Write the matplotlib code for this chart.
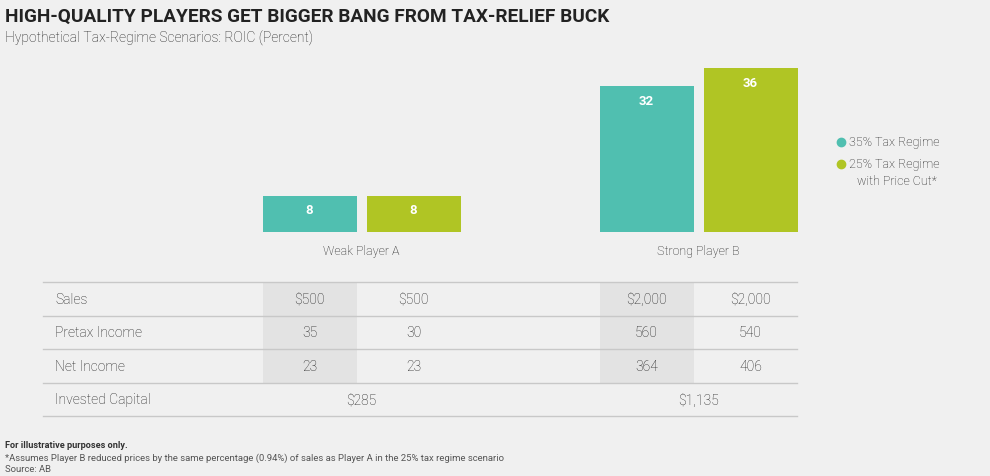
import matplotlib
matplotlib.use('Agg')
import matplotlib.pyplot as plt

# Data
players = ['Weak Player A', 'Strong Player B']
series = ['35% Tax Regime', '25% Tax Regime\nwith Price Cut*']
roic_35 = [8, 32]
roic_25 = [8, 36]
row_labels = ['Sales', 'Pretax Income', 'Net Income']
table_35 = [['$500', '35', '23'], ['$2,000', '560', '364']]
table_25 = [['$500', '30', '23'], ['$2,000', '540', '406']]
invested = ['$285', '$1,135']

BG = '#f0f0f0'
TEAL = '#50bfb0'
GREEN = '#b0c524'
TXT = '#1e1e1e'
LINE = '#c8c8c8'
SHADE = '#e3e3e3'

W, H = 990, 477
fig = plt.figure(figsize=(W / 100, H / 100), dpi=100, facecolor=BG)
plt.rcParams['font.family'] = ['Roboto', 'DejaVu Sans']

# background axes in pixel coordinates (y down)
bg = fig.add_axes([0, 0, 1, 1])
bg.set_xlim(0, W)
bg.set_ylim(H, 0)
bg.axis('off')

# bar axes: baseline at y=233px, 4.56 px per percent
scale = 4.56
ymax = 45
ax = fig.add_axes([0, (H - 233) / H, 1, ymax * scale / H])
ax.set_xlim(0, W)
ax.set_ylim(0, ymax)
ax.axis('off')

centers = [361.5, 698.5]
bw = 94
gap = 10
for i, c in enumerate(centers):
    x1 = c - gap / 2 - bw / 2
    x2 = c + gap / 2 + bw / 2
    ax.bar(x1, roic_35[i], width=bw, color=TEAL)
    ax.bar(x2, roic_25[i], width=bw, color=GREEN)
    for x, v in [(x1, roic_35[i]), (x2, roic_25[i])]:
        ax.text(x, v - 1.7, str(v), ha='center', va='top', color='white',
                fontsize=9.5, fontweight='bold')
    bg.text(c, 251, players[i], ha='center', va='center', color=TXT,
            fontsize=9, fontweight='light')

# legend
bg.plot(841, 143, 'o', color=TEAL, markersize=6)
bg.plot(841, 165, 'o', color=GREEN, markersize=6)
bg.text(849, 143, series[0], ha='left', va='center', color=TXT, fontsize=9, fontweight='light')
first, second = series[1].split('\n')
bg.text(849, 165, first, ha='left', va='center', color=TXT, fontsize=9, fontweight='light')
bg.text(857, 182, second, ha='left', va='center', color=TXT, fontsize=9, fontweight='light')

# table
row_y = [283, 317, 350, 384, 417]
left, right = 43, 797
for i, c in enumerate(centers):
    x1 = c - gap / 2 - bw / 2
    bg.fill_between([x1 - bw / 2, x1 + bw / 2], row_y[0], row_y[3], color=SHADE, lw=0)
for y in row_y:
    bg.plot([left, right], [y, y], color=LINE, lw=1)

for r, lab in enumerate(row_labels):
    ym = (row_y[r] + row_y[r + 1]) / 2
    bg.text(55, ym, lab, ha='left', va='center', color=TXT, fontsize=10, fontweight='light')
    for i, c in enumerate(centers):
        x1 = c - gap / 2 - bw / 2
        x2 = c + gap / 2 + bw / 2
        bg.text(x1, ym, table_35[i][r], ha='center', va='center', color=TXT,
                fontsize=10, fontweight='light')
        bg.text(x2, ym, table_25[i][r], ha='center', va='center', color=TXT,
                fontsize=10, fontweight='light')
ym = (row_y[3] + row_y[4]) / 2
bg.text(55, ym, 'Invested Capital', ha='left', va='center', color=TXT,
        fontsize=10, fontweight='light')
for i, c in enumerate(centers):
    bg.text(c, ym, invested[i], ha='center', va='center', color=TXT,
            fontsize=10, fontweight='light')

# titles
bg.text(5, 17, 'HIGH-QUALITY PLAYERS GET BIGGER BANG FROM TAX-RELIEF BUCK',
        ha='left', va='center', color='#222222', fontsize=13.7, fontweight='bold')
bg.text(5, 38, 'Hypothetical Tax-Regime Scenarios: ROIC (Percent)',
        ha='left', va='center', color=TXT, fontsize=10, fontweight='light')

# footnotes
bg.text(5, 446, 'For illustrative purposes only.', ha='left', va='center',
        color='#333333', fontsize=6.6, fontweight='bold')
bg.text(5, 458, '*Assumes Player B reduced prices by the same percentage (0.94%) of sales '
        'as Player A in the 25% tax regime scenario', ha='left', va='center',
        color='#555555', fontsize=6.8)
bg.text(5, 470, 'Source: AB', ha='left', va='center', color='#555555', fontsize=6.8)

fig.savefig('out.png', dpi=100, facecolor=BG)
